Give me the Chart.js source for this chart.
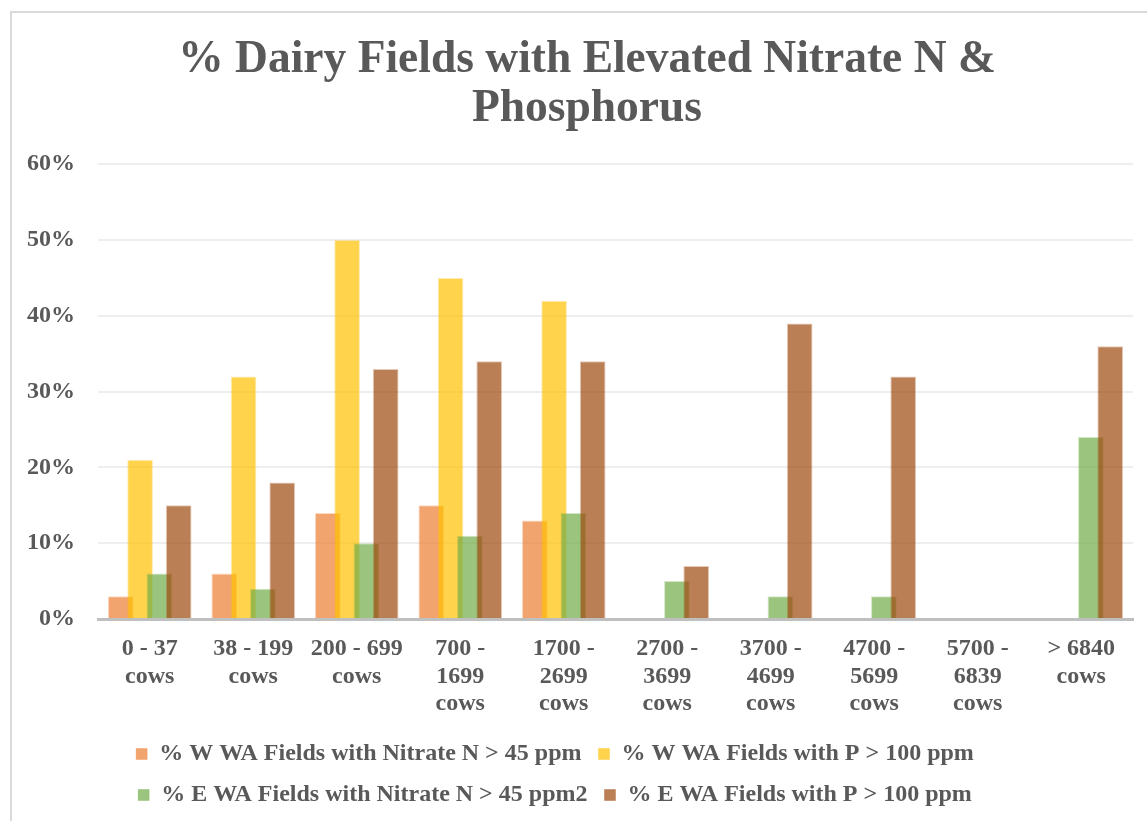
<!DOCTYPE html>
<html lang="en">
<head>
    <meta charset="UTF-8">
    <title>% Dairy Fields with Elevated Nitrate N &amp; Phosphorus</title>
    <script src="https://cdn.jsdelivr.net/npm/chart.js"></script>
    <style>
        body {
        margin: 0;
        background: #fff;
        overflow: hidden;
        }
        .frame {
        position: absolute;
        left: 10px;
        top: 11px;
        border-top: 2px solid #d9d9d9;
        border-left: 2px solid #d9d9d9;
        }
    </style>
</head>
<body>
    <div class="frame">
        <canvas id="dairyChart" width="1150" height="808"></canvas>
    </div>

    <script>
        // herd size classes
        const cowRanges = [
            ['0 - 37', 'cows'],
            ['38 - 199', 'cows'],
            ['200 - 699', 'cows'],
            ['700 -', '1699', 'cows'],
            ['1700 -', '2699', 'cows'],
            ['2700 -', '3699', 'cows'],
            ['3700 -', '4699', 'cows'],
            ['4700 -', '5699', 'cows'],
            ['5700 -', '6839', 'cows'],
            ['> 6840', 'cows']
        ];

        // % of fields
        const westNitrate = [3, 6, 14, 15, 13, 0, 0, 0, 0, 0];
        const westPhos    = [21, 32, 50, 45, 42, 0, 0, 0, 0, 0];
        const eastNitrate = [6, 4, 10, 11, 14, 5, 3, 3, 0, 24];
        const eastPhos    = [15, 18, 33, 34, 34, 7, 39, 32, 0, 36];

        const seriesNames = [
            '% W WA Fields with Nitrate N > 45 ppm',
            '% W WA Fields with P > 100 ppm',
            '% E WA Fields with Nitrate N > 45 ppm2',
            '% E WA Fields with P > 100 ppm'
        ];

        const serif = "'Liberation Serif', 'Times New Roman', serif";
        const textGrey = '#595959';

        // later series sit on top of earlier ones where the bars overlap
        const drawInOrder = {
            id: 'drawInOrder',
            beforeDatasetsDraw(chart) {
                chart.getSortedVisibleDatasetMetas().forEach(meta => meta.controller.draw());
                return false;
            }
        };

        // title a bit right, legend a bit left, like the original
        const boxShift = {
            id: 'boxShift',
            afterLayout(chart) {
                chart.titleBlock.left += 7;
                chart.titleBlock.right += 7;
                chart.legend.left -= 25;
                chart.legend.right -= 25;
            }
        };

        function bar(label, data, rgb) {
            return {
                label: label,
                data: data,
                backgroundColor: 'rgba(' + rgb + ',0.7)',
                borderColor: 'rgba(' + rgb + ',0.3)',
                borderWidth: 1,
                categoryPercentage: 0.746,
                barPercentage: 1.33
            };
        }

        const ctx = document.getElementById('dairyChart').getContext('2d');
        new Chart(ctx, {
            type: 'bar',
            data: {
                labels: cowRanges,
                datasets: [
                    bar(seriesNames[0], westNitrate, '237,125,49'),
                    bar(seriesNames[1], westPhos, '255,192,0'),
                    bar(seriesNames[2], eastNitrate, '112,173,71'),
                    bar(seriesNames[3], eastPhos, '158,72,14')
                ]
            },
            options: {
                responsive: false,
                animation: false,
                layout: { padding: { left: 15, right: 29, top: 0, bottom: 4 } },
                scales: {
                    x: {
                        z: 1,
                        afterFit: scale => { scale.height = 106; },
                        grid: { display: false, drawTicks: false },
                        border: { display: true, color: '#bfbfbf', width: 3 },
                        ticks: {
                            autoSkip: false,
                            maxRotation: 0,
                            padding: 16,
                            color: textGrey,
                            font: { family: serif, size: 24, weight: 'bold', lineHeight: 1.15 }
                        }
                    },
                    y: {
                        min: 0,
                        max: 60,
                        afterFit: scale => { scale.width = 71; },
                        grid: { color: '#eeeeee', lineWidth: 2, drawTicks: false },
                        border: { display: false },
                        ticks: {
                            stepSize: 10,
                            padding: 23,
                            color: textGrey,
                            font: { family: serif, size: 24, weight: 'bold' },
                            callback: v => v + '%'
                        }
                    }
                },
                plugins: {
                    title: {
                        display: true,
                        text: ['% Dairy Fields with Elevated Nitrate N &', 'Phosphorus'],
                        color: textGrey,
                        font: { family: serif, size: 45.5, weight: 'bold', lineHeight: 1.08 },
                        padding: { top: 23, bottom: 30 }
                    },
                    legend: {
                        position: 'bottom',
                        labels: {
                            boxWidth: 11,
                            boxHeight: 11,
                            padding: 17,
                            color: textGrey,
                            font: { family: serif, size: 24, weight: 'bold' }
                        }
                    },
                    tooltip: { enabled: false }
                }
            },
            plugins: [drawInOrder, boxShift]
        });
    </script>
</body>
</html>
